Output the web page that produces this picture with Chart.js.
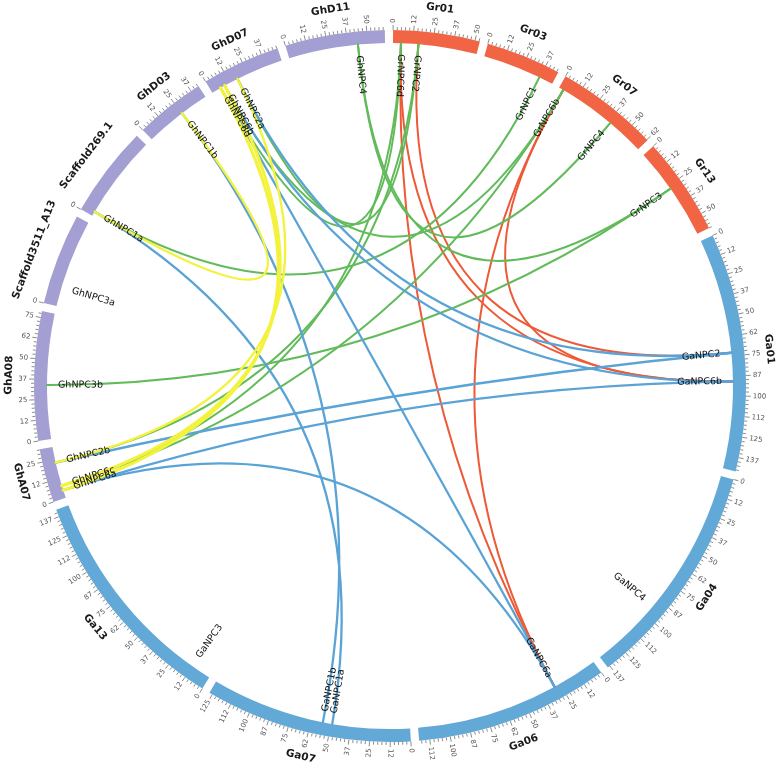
<!DOCTYPE html>
<html>
<head>
<meta charset="utf-8">
<script src="https://cdn.jsdelivr.net/npm/chart.js@4.4.1/dist/chart.umd.min.js"></script>
<style>
  html, body { margin: 0; padding: 0; background: #fff; }
  #wrap { width: 778px; height: 770px; }
</style>
</head>
<body>
<div id="wrap"><canvas id="circos"></canvas></div>
<script>
// chromosomes, clockwise from 12 o'clock
const chromNames = ["Gr01", "Gr03", "Gr07", "Gr13", "Ga01", "Ga04", "Ga06", "Ga07",
  "Ga13", "GhA07", "GhA08", "Scaffold3511_A13", "Scaffold269.1", "GhD03", "GhD07", "GhD11"];
const chromLengths = [53, 46, 63, 60, 146, 139, 119, 127, 142, 33, 79, 56, 56, 43, 48, 61];
const chromSpecies = ["Gr", "Gr", "Gr", "Gr", "Ga", "Ga", "Ga", "Ga", "Ga", "Gh", "Gh", "Gh", "Gh", "Gh", "Gh", "Gh"];
const chromTicked = [true, true, true, true, true, true, true, true, true, true, true, false, false, true, true, true];
const GAP = 5;

// genes: chromosome + position on it
const geneNames = ["GrNPC6d", "GrNPC2", "GrNPC1", "GrNPC6b", "GrNPC4", "GrNPC3",
  "GaNPC2", "GaNPC6b", "GaNPC4", "GaNPC6a", "GaNPC1a", "GaNPC1b", "GaNPC3",
  "GhNPC6a", "GhNPC6c", "GhNPC2b", "GhNPC3b", "GhNPC3a", "GhNPC1a", "GhNPC1b",
  "GhNPC6d", "GhNPC6b", "GhNPC2a", "GhNPC4"];
const geneChrom = ["Gr01", "Gr01", "Gr03", "Gr07", "Gr07", "Gr13",
  "Ga01", "Ga01", "Ga04", "Ga06", "Ga07", "Ga07", "Ga13",
  "GhA07", "GhA07", "GhA07", "GhA08", "Scaffold3511_A13", "Scaffold269.1", "GhD03",
  "GhD07", "GhD07", "GhD07", "GhD11"];
const genePos = [5, 16, 37, 3, 39, 27,
  73, 91, 93, 29, 49, 55, 13,
  5, 8, 23, 34, 12, 3, 25,
  6, 9, 18, 44];

// syntenic pairs
const linkFrom = [
  "GrNPC6d", "GrNPC6d", "GrNPC6b", "GrNPC6b", "GrNPC2",
  "GrNPC1", "GrNPC2", "GrNPC2", "GrNPC3", "GrNPC3", "GrNPC4", "GrNPC6b", "GrNPC6b", "GrNPC6d", "GrNPC6d",
  "GaNPC1a", "GaNPC1b", "GaNPC2", "GaNPC2", "GaNPC6b", "GaNPC6b", "GaNPC6a", "GaNPC6a",
  "GhNPC1a", "GhNPC2a", "GhNPC6d", "GhNPC6b"];
const linkTo = [
  "GaNPC6a", "GaNPC6b", "GaNPC6a", "GaNPC6b", "GaNPC2",
  "GhNPC1a", "GhNPC2a", "GhNPC2b", "GhNPC3b", "GhNPC4", "GhNPC4", "GhNPC6b", "GhNPC6c", "GhNPC6d", "GhNPC6c",
  "GhNPC1a", "GhNPC1b", "GhNPC2a", "GhNPC2b", "GhNPC6a", "GhNPC6b", "GhNPC6a", "GhNPC6d",
  "GhNPC1b", "GhNPC2b", "GhNPC6a", "GhNPC6c"];

const SPECIES_COLOR = { Gr: "#f16545", Ga: "#63a9d8", Gh: "#a49fd2" };
const LINK_COLOR = { "Ga-Gr": "#ee5a37", "Gh-Gr": "#62bb5a", "Ga-Gh": "#5aa3d6", "Gh-Gh": "#f3f23c" };
const FONT = '"DejaVu Sans", sans-serif';

const ringValues = [];
const ringColors = [];
chromLengths.forEach((len, i) => {
  ringValues.push(len, GAP);
  ringColors.push(SPECIES_COLOR[chromSpecies[i]], "rgba(0,0,0,0)");
});

const circosPlugin = {
  id: "circos",
  afterDatasetsDraw(chart) {
    const ctx = chart.ctx;
    const arcs = chart.getDatasetMeta(0).data;
    const cx = arcs[0].x, cy = arcs[0].y;
    const rOut = arcs[0].outerRadius, rIn = arcs[0].innerRadius;

    const angleAt = (ci, p) => {
      const a = arcs[ci * 2];
      return a.startAngle + (a.endAngle - a.startAngle) * p / chromLengths[ci];
    };
    const thetaDeg = (a) => (((a + Math.PI / 2) * 180 / Math.PI) % 360 + 360) % 360;
    const geneAngle = (g) => {
      const gi = geneNames.indexOf(g);
      return angleAt(chromNames.indexOf(geneChrom[gi]), genePos[gi]);
    };

    ctx.save();

    // ticks + tick labels
    ctx.strokeStyle = "#707070";
    ctx.lineWidth = 0.8;
    ctx.fillStyle = "#555";
    ctx.font = "7px " + FONT;
    ctx.textBaseline = "middle";
    chromLengths.forEach((len, ci) => {
      const steps = chromTicked[ci] ? Math.floor(len / 2.5) : 0;
      for (let s = 0; s <= steps; s++) {
        const v = s * 2.5;
        const major = s % 5 === 0;
        const a = angleAt(ci, v);
        const tl = major ? 5 : 3;
        ctx.beginPath();
        ctx.moveTo(cx + rOut * Math.cos(a), cy + rOut * Math.sin(a));
        ctx.lineTo(cx + (rOut + tl) * Math.cos(a), cy + (rOut + tl) * Math.sin(a));
        ctx.stroke();
        if (!major) continue;
        const th = thetaDeg(a);
        ctx.save();
        ctx.translate(cx + (rOut + 7) * Math.cos(a), cy + (rOut + 7) * Math.sin(a));
        if (th < 180) { ctx.rotate(a); ctx.textAlign = "left"; }
        else { ctx.rotate(a + Math.PI); ctx.textAlign = "right"; }
        ctx.fillText(String(Math.floor(v)), 0, 0);
        ctx.restore();
      }
    });

    // chromosome names
    ctx.fillStyle = "#1a1a1a";
    ctx.font = "bold 10.5px " + FONT;
    ctx.textAlign = "center";
    chromNames.forEach((name, ci) => {
      const a = angleAt(ci, chromLengths[ci] / 2);
      const th = thetaDeg(a);
      ctx.save();
      ctx.translate(cx + 381 * Math.cos(a), cy + 381 * Math.sin(a));
      ctx.rotate(th >= 90 && th < 270 ? a - Math.PI / 2 : a + Math.PI / 2);
      ctx.fillText(name, 0, 0);
      ctx.restore();
    });

    // links
    ctx.lineCap = "round";
    linkFrom.forEach((g1, i) => {
      const g2 = linkTo[i];
      const pair = [g1.slice(0, 2), g2.slice(0, 2)].sort().join("-");
      const a1 = geneAngle(g1), a2 = geneAngle(g2);
      let w = 2;
      if (pair === "Gh-Gh") w = g1.includes("NPC6") ? 3.2 : 2.4;
      else if (pair === "Ga-Gh") w = 2.3;
      ctx.strokeStyle = LINK_COLOR[pair];
      ctx.lineWidth = w;
      ctx.beginPath();
      ctx.moveTo(cx + rIn * Math.cos(a1), cy + rIn * Math.sin(a1));
      ctx.quadraticCurveTo(cx, cy, cx + rIn * Math.cos(a2), cy + rIn * Math.sin(a2));
      ctx.stroke();
    });

    // gene labels
    ctx.fillStyle = "#111";
    ctx.font = "9.5px " + FONT;
    ctx.textBaseline = "middle";
    geneNames.forEach((g) => {
      const a = geneAngle(g);
      const th = thetaDeg(a);
      const r = 332;
      ctx.save();
      ctx.translate(cx + r * Math.cos(a), cy + r * Math.sin(a));
      if (th > 10 && th < 180) { ctx.rotate(a); ctx.textAlign = "right"; }
      else { ctx.rotate(a + Math.PI); ctx.textAlign = "left"; }
      ctx.fillText(g, 0, 0);
      ctx.restore();
    });

    ctx.restore();
  },
};

new Chart(document.getElementById("circos"), {
  type: "doughnut",
  data: {
    labels: chromNames.flatMap((n) => [n, ""]),
    datasets: [{
      data: ringValues,
      backgroundColor: ringColors,
      borderWidth: 0,
    }],
  },
  options: {
    responsive: true,
    maintainAspectRatio: false,
    animation: false,
    events: [],
    rotation: 0.5,
    cutout: 343,
    layout: { padding: { left: 34, right: 32, top: 30, bottom: 28 } },
    plugins: { legend: { display: false }, tooltip: { enabled: false } },
  },
  plugins: [circosPlugin],
});
</script>
</body>
</html>
